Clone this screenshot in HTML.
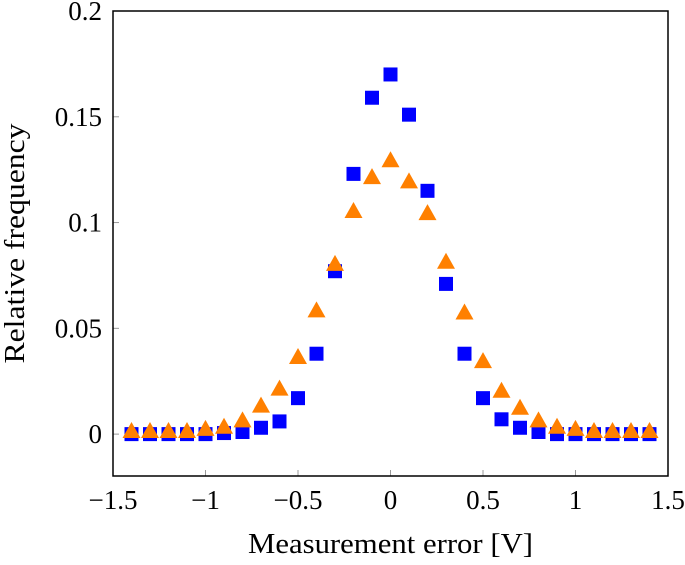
<!DOCTYPE html>
<html><head><meta charset="utf-8"><style>
body{margin:0;background:#fff}
svg text{font-family:"Liberation Serif",serif;fill:#000}
</style></head><body>
<svg width="685" height="560" viewBox="0 0 685 560" xmlns="http://www.w3.org/2000/svg">
<g id="plot"></g>
</svg>
<script>
const xVals=[-1.4,-1.3,-1.2,-1.1,-1.0,-0.9,-0.8,-0.7,-0.6,-0.5,-0.4,-0.3,-0.2,-0.1,0,0.1,0.2,0.3,0.4,0.5,0.6,0.7,0.8,0.9,1.0,1.1,1.2,1.3,1.4];
const blueVals=[0,0,0,0,0,0.0005,0.001,0.003,0.006,0.017,0.038,0.077,0.123,0.159,0.170,0.151,0.115,0.071,0.038,0.017,0.007,0.003,0.001,0,0,0,0,0,0];
const orangeVals=[0.001,0.001,0.001,0.001,0.002,0.003,0.006,0.013,0.021,0.036,0.058,0.080,0.105,0.121,0.129,0.119,0.104,0.081,0.057,0.034,0.020,0.012,0.006,0.003,0.002,0.001,0.001,0.001,0.001];
const xTicks=[-1.5,-1,-0.5,0,0.5,1,1.5];
const xTickLabels=["\u22121.5","\u22121","\u22120.5","0","0.5","1","1.5"];
const yTicks=[0,0.05,0.1,0.15,0.2];
const yTickLabels=["0","0.05","0.1","0.15","0.2"];
const L=113,R=668,T=11,B=476,xMin=-1.5,xMax=1.5,yMin=-0.0198,yMax=0.2;
const sx=v=>L+(v-xMin)/(xMax-xMin)*(R-L);
const sy=v=>B-(v-yMin)/(yMax-yMin)*(B-T);
const NS="http://www.w3.org/2000/svg";
const g=document.getElementById('plot');
function mk(t,a){const e=document.createElementNS(NS,t);for(const k in a)e.setAttribute(k,a[k]);g.appendChild(e);return e;}
xTicks.forEach((v,i)=>{
 const l=mk('line',{x1:sx(v),x2:sx(v),y1:B,y2:B-6,stroke:'#999','stroke-width':1});
 
 
 const t=mk('text',{x:sx(v),y:B+33,'text-anchor':'middle','font-size':27});
 t.textContent=xTickLabels[i];
 
 
});
yTicks.forEach((v,i)=>{
 const l=mk('line',{x1:L,x2:L+6,y1:sy(v),y2:sy(v),stroke:'#999','stroke-width':1});
 
 
 const t=mk('text',{x:L-11,y:sy(v)+9,'text-anchor':'end','font-size':27});
 t.textContent=yTickLabels[i];
 
 
});
xVals.forEach((x,i)=>{
 const s=mk('rect',{x:sx(x)-7,y:sy(blueVals[i])-7,width:14,height:14,fill:'#0000ff'});
 
 
});
xVals.forEach((x,i)=>{
 const cx=sx(x),cy=sy(orangeVals[i]);
 const p=mk('polygon',{points:`${cx-9},${cy+6} ${cx+9},${cy+6} ${cx},${cy-10}`,fill:'#ff8000'});
 
 
});
const f=mk('rect',{x:L,y:T,width:R-L,height:B-T,fill:'none',stroke:'#000','stroke-width':1.5});


const xt=mk('text',{x:(L+R)/2,y:553,'text-anchor':'middle','font-size':29,textLength:285,lengthAdjust:'spacingAndGlyphs'});
xt.textContent='Measurement error [V]';


const yt=mk('text',{x:0,y:0,'text-anchor':'middle','font-size':29,textLength:240,lengthAdjust:'spacingAndGlyphs',transform:`translate(24,${(T+B)/2}) rotate(-90)`});
yt.textContent='Relative frequency';


</script>
</body></html>
